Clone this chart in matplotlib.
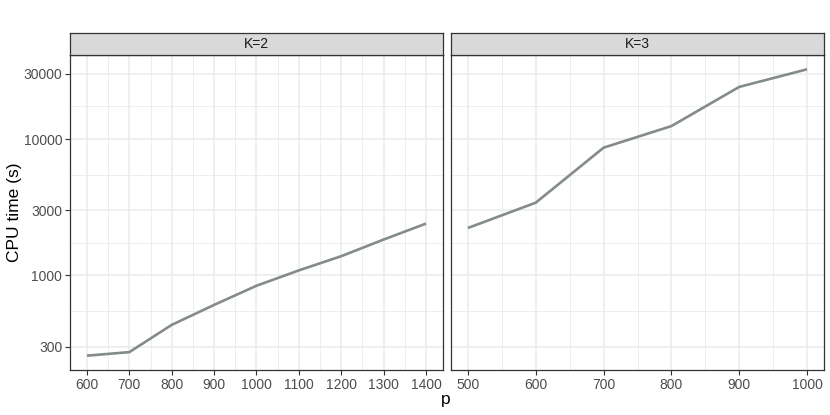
import numpy as np
import matplotlib.pyplot as plt
from matplotlib.ticker import FixedLocator, FixedFormatter, NullFormatter

plt.rcParams['font.family'] = ['Liberation Sans', 'DejaVu Sans']

# data
p_k2 = [600, 700, 800, 900, 1000, 1100, 1200, 1300, 1400]
time_k2 = [258, 274, 434, 608, 840, 1089, 1384, 1833, 2399]
p_k3 = [500, 600, 700, 800, 900, 1000]
time_k3 = [2228, 3415, 8640, 12440, 24100, 32430]

panels = [("K=2", p_k2, time_k2, [600, 700, 800, 900, 1000, 1100, 1200, 1300, 1400]),
          ("K=3", p_k3, time_k3, [500, 600, 700, 800, 900, 1000])]

y_major = [300, 1000, 3000, 10000, 30000]
y_minor = [np.sqrt(a * b) for a, b in zip(y_major[:-1], y_major[1:])]

W, H = 830, 415
fig = plt.figure(figsize=(W / 100, H / 100), dpi=100)

line_col = "#838C89"
dark = "#333333"
grid = "#EBEBEB"

all_y = np.log10(time_k2 + time_k3)
lo, hi = all_y.min(), all_y.max()
pad = 0.05 * (hi - lo)
ylim = (10 ** (lo - pad), 10 ** (hi + pad))

lefts = [70, 451]
pw = 373
ptop, pbot = 55, 370
strip_top = 33

for i, (label, xs, ys, xt) in enumerate(panels):
    ax = fig.add_axes([lefts[i] / W, 1 - pbot / H, pw / W, (pbot - ptop) / H])
    ax.plot(xs, ys, color=line_col, lw=1.9, solid_capstyle='butt', zorder=3)
    ax.set_yscale('log')
    ax.set_ylim(*ylim)
    xr = max(xs) - min(xs)
    ax.set_xlim(min(xs) - 0.05 * xr, max(xs) + 0.05 * xr)
    ax.set_xticks(xt)
    xminor = [(a + b) / 2 for a, b in zip(xt[:-1], xt[1:])]
    ax.xaxis.set_minor_locator(FixedLocator(xminor))
    ax.yaxis.set_major_locator(FixedLocator(y_major))
    ax.yaxis.set_major_formatter(FixedFormatter([str(v) for v in y_major]))
    ax.yaxis.set_minor_locator(FixedLocator(y_minor))
    ax.yaxis.set_minor_formatter(NullFormatter())
    ax.grid(which='major', color=grid, lw=1.1, zorder=0)
    ax.grid(which='minor', color=grid, lw=0.6, zorder=0)
    ax.set_axisbelow(True)
    ax.tick_params(which='major', length=3.5, width=0.8, color=dark,
                   labelsize=10, labelcolor="#4D4D4D", pad=2)
    ax.tick_params(which='minor', length=0)
    if i == 1:
        ax.tick_params(axis='y', which='major', left=False, labelleft=False)
    for s in ax.spines.values():
        s.set_color(dark)
        s.set_linewidth(0.9)

    sax = fig.add_axes([lefts[i] / W, 1 - ptop / H, pw / W, (ptop - strip_top) / H])
    sax.set_facecolor("#D9D9D9")
    sax.set_xticks([])
    sax.set_yticks([])
    for s in sax.spines.values():
        s.set_color(dark)
        s.set_linewidth(0.9)
    sax.text(0.5, 0.5, label, ha='center', va='center', fontsize=10,
             color="#1A1A1A", transform=sax.transAxes)

fig.text(14 / W, 1 - 212 / H, "CPU time (s)", rotation=90, ha='center',
         va='center', fontsize=12.5)
fig.text(446 / W, 1 - 399 / H, "p", ha='center', va='center', fontsize=12.5)

fig.savefig("out.png", dpi=100)
